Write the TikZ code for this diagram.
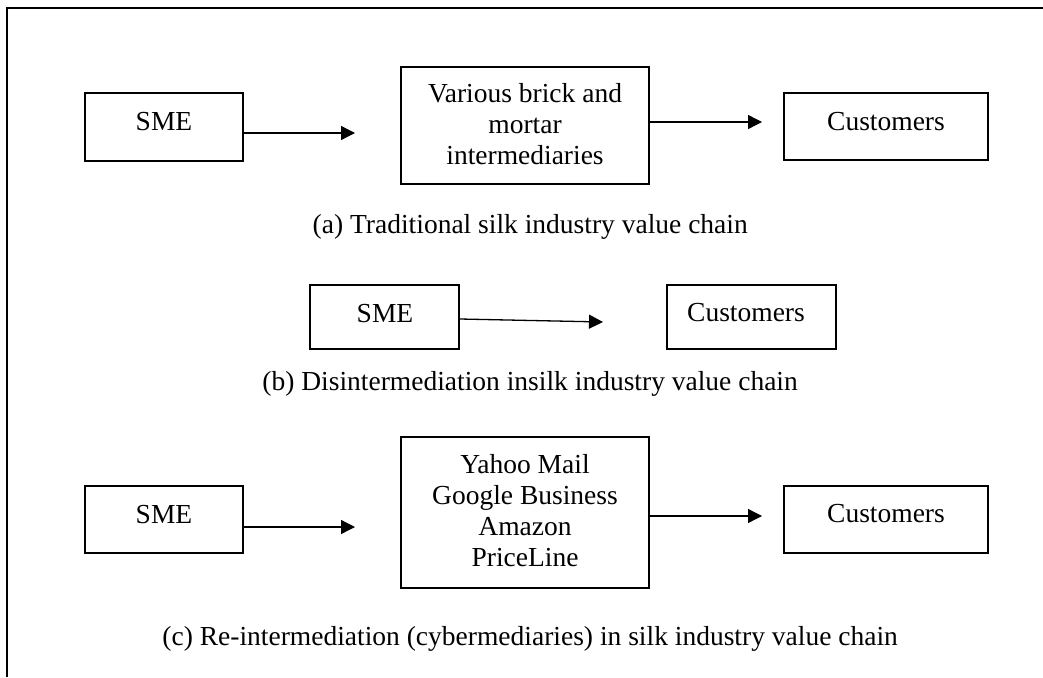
\documentclass[tikz,border=0pt]{standalone}
\usepackage{fontspec}
\setmainfont{Liberation Serif}
\usetikzlibrary{arrows.meta}
\begin{document}
\begin{tikzpicture}[x=1pt,y=-1pt,
  box/.style={draw, line width=1.8pt, rectangle, inner sep=0pt},
  lbl/.style={inner sep=0pt, anchor=base, font=\fontsize{27.5}{31}\selectfont},
  captext/.style={inner sep=0pt, anchor=base east, font=\fontsize{27.5}{31}\selectfont},
  arr/.style={line width=1.3pt, -{Triangle[length=14pt,width=14pt]}},
  frameline/.style={line width=1.8pt}]
\useasboundingbox (0,0) rectangle (1043,677);
% outer frame (cut by the page at right and bottom)
\coordinate (fbl) at (7,677);
\coordinate (ftl) at (7,8);
\coordinate (ftr) at (1043,8);
\draw[frameline] (fbl) -- (ftl) -- (ftr);

% ---------- (a) ----------
\node[box, minimum width=158pt, minimum height=68pt] (smeA) at (164,127) {};
\node[lbl] (smeAt) at (164,130) {SME};
\node[box, minimum width=248pt, minimum height=117pt] (midA) at (525,125.5) {};
\node[lbl] (midAt) at (525,102) {\begin{tabular}[t]{@{}c@{}}Various brick and\\mortar\\intermediaries\end{tabular}};
\node[box, minimum width=204pt, minimum height=67pt] (custA) at (886,126.5) {};
\node[lbl] (custAt) at (886,130) {Customers};
\coordinate (aA1) at (355,133);
\coordinate (aA2) at (762,122);
\draw[arr] (smeA.east |- aA1) -- (aA1);
\draw[arr] (midA.east |- aA2) -- (aA2);
\node[captext] (capA) at (748,233) {(a) Traditional silk industry value chain};

% ---------- (b) ----------
\node[box, minimum width=149pt, minimum height=64pt] (smeB) at (384.5,317) {};
\node[lbl] (smeBt) at (385,322) {SME};
\node[box, minimum width=169pt, minimum height=64pt] (custB) at (751.5,317) {};
\node[lbl] (custBt) at (746,321) {Customers};
\coordinate (aB0) at (459,319);
\coordinate (aB1) at (603,322);
\draw[arr] (smeB.east |- aB0) -- (aB1);
\node[captext] (capB) at (798,390) {(b) Disintermediation insilk industry value chain};

% ---------- (c) ----------
\node[box, minimum width=158pt, minimum height=67pt] (smeC) at (164,519.5) {};
\node[lbl] (smeCt) at (164,523) {SME};
\node[box, minimum width=248pt, minimum height=151pt] (midC) at (525,512.5) {};
\node[lbl] (midCt) at (525,473) {\begin{tabular}[t]{@{}c@{}}Yahoo Mail\\Google Business\\Amazon\\PriceLine\end{tabular}};
\node[box, minimum width=204pt, minimum height=67pt] (custC) at (886,519.5) {};
\node[lbl] (custCt) at (886,522) {Customers};
\coordinate (aC1) at (355,527);
\coordinate (aC2) at (762,516);
\draw[arr] (smeC.east |- aC1) -- (aC1);
\draw[arr] (midC.east |- aC2) -- (aC2);
\node[captext] (capC) at (898,645) {(c) Re-intermediation (cybermediaries) in silk industry value chain};
\end{tikzpicture}
\end{document}
